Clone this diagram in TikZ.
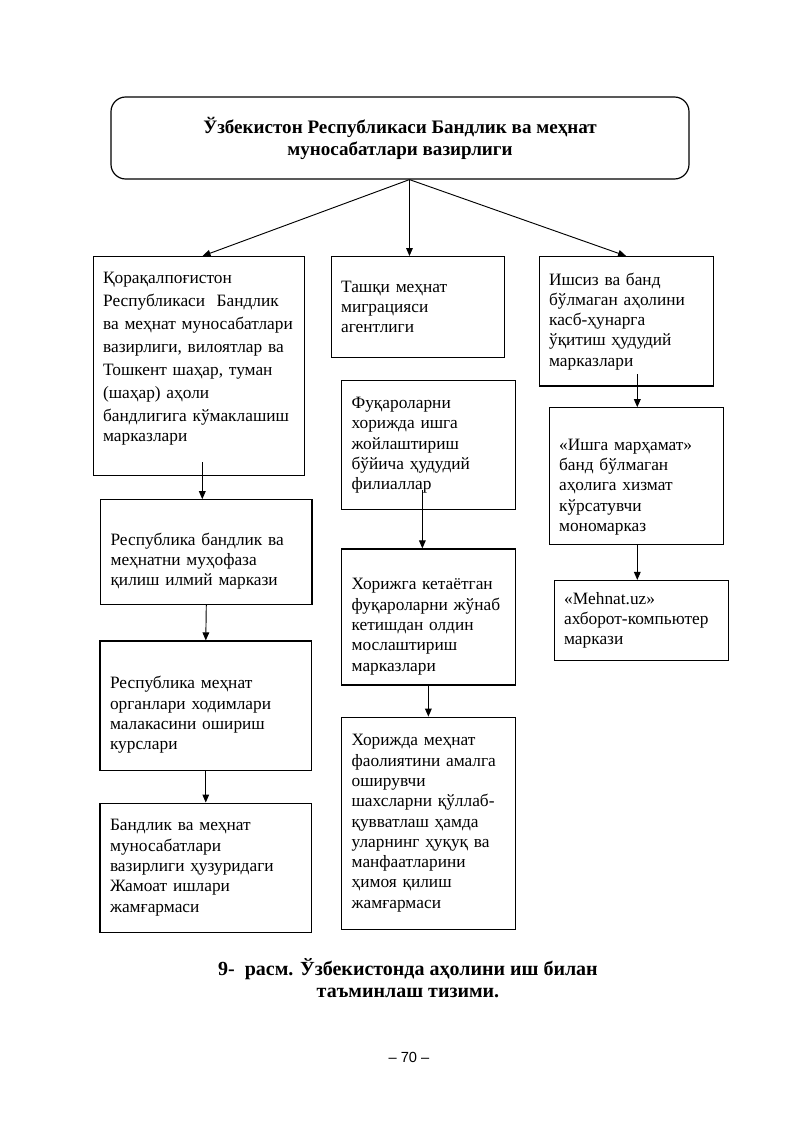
\documentclass[tikz,border=0pt]{standalone}
\usepackage{fontspec}
\setmainfont{Liberation Serif}
\newfontfamily\pagefont{Liberation Sans}
\usetikzlibrary{positioning, arrows.meta}

\newcommand{\padtop}[1]{\rule{0pt}{#1}}
\newcommand{\padbot}[1]{\rule[-#1]{0pt}{#1}}

\begin{document}
\begin{tikzpicture}[x=0.75pt, y=-0.75pt,
    box/.style={draw, line width=0.9pt, align=left, inner xsep=7.5pt, inner ysep=0pt,
        font=\fontsize{13}{15.2}\selectfont},
    colL/.style={minimum width=158.6pt, text width=143.6pt},
    colM/.style={minimum width=130.1pt, text width=115.1pt},
    colR/.style={minimum width=130.5pt, text width=115.5pt},
    boss/.style={draw, line width=0.9pt, rounded corners=11pt, align=center,
        font=\fontsize{14.3}{16.5}\selectfont\bfseries},
    link/.style={-{Triangle[length=6pt,width=5pt]}, line width=0.7pt}]
    \fill[white] (0,0) rectangle (800,1131);
    \useasboundingbox (0,0) rectangle (800,1131);

    \node[boss, minimum width=433.5pt, minimum height=61.5pt] (top) at (400,138)
        {Ўзбекистон Республикаси Бандлик ва меҳнат\\ муносабатлари вазирлиги};

    \node[box, colL, minimum height=163.9pt, anchor=north west] (L1) at (92.5,256)
        {\fontsize{13}{17.25}\selectfont Қорақалпоғистон\\ Республикаси\ \ Бандлик\\ ва меҳнат муносабатлари\\ вазирлиги, вилоятлар ва\\ Тошкент шаҳар, туман\\ (шаҳар) аҳоли\\ бандлигига кўмаклашиш\\ марказлари\padbot{13.7pt}};
    \node[box, colL, minimum height=78.4pt, below=17.6pt of L1, xshift=5.6pt] (L2)
        {\padtop{23pt}Республика бандлик ва\\ меҳнатни муҳофаза\\ қилиш илмий маркази};
    \node[box, colL, minimum height=97.1pt, below=26.6pt of L2, xshift=-0.4pt] (L3)
        {\padtop{23pt}Республика меҳнат\\ органлари ходимлари\\ малакасини ошириш\\ курслари};
    \node[box, colL, minimum height=96.75pt, below=23.6pt of L3] (L4)
        {Бандлик ва меҳнат\\ муносабатлари\\ вазирлиги ҳузуридаги\\ Жамоат ишлари\\ жамғармаси};

    \node[box, colM, minimum height=75.75pt, anchor=north west] (M1) at (330.5,256)
        {Ташқи меҳнат\\ миграцияси\\ агентлиги};
    \node[box, colM, minimum height=96.75pt, below=16.5pt of M1, xshift=7.9pt] (M2)
        {Фуқароларни\\ хорижда ишга\\ жойлаштириш\\ бўйича ҳудудий\\ филиаллар};
    \node[box, colM, minimum height=102pt, below=28.5pt of M2] (M3)
        {\padtop{23pt}Хорижга кетаётган\\ фуқароларни жўнаб\\ кетишдан олдин\\ мослаштириш\\ марказлари};
    \node[box, colM, minimum height=159pt, below=23.25pt of M3] (M4)
        {Хорижда меҳнат\\ фаолиятини амалга\\ оширувчи\\ шахсларни қўллаб-\\ қувватлаш ҳамда\\ уларнинг ҳуқуқ ва\\ манфаатларини\\ ҳимоя қилиш\\ жамғармаси};

    \node[box, colR, minimum height=97.1pt, anchor=north west] (R1) at (538.5,256)
        {Ишсиз ва банд\\ бўлмаган аҳолини\\ касб-ҳунарга\\ ўқитиш ҳудудий\\ марказлари};
    \node[box, colR, minimum height=102.75pt, below=15.4pt of R1, xshift=7.5pt] (R2)
        {\padtop{24.5pt}«Ишга марҳамат»\\ банд бўлмаган\\ аҳолига хизмат\\ кўрсатувчи\\ мономарказ};
    \node[box, colR, minimum height=60pt, below=25.9pt of R2, xshift=3.75pt] (R3)
        {«Mehnat.uz»\\ ахборот-компьютер\\ маркази};

    \node[font=\fontsize{15}{16.5}\selectfont\bfseries, align=center] (caption) at (408,978)
        {9-\ \ расм. Ўзбекистонда аҳолини иш билан\\ таъминлаш тизими.};
    \node[font=\pagefont\fontsize{11}{13}\selectfont] (page) at (409,1057) {– 70 –};

    \coordinate (hub) at ([xshift=7.1pt]top.south);
    \draw[link] (hub) -- ([xshift=2.8pt]L1.north);
    \draw[link] (hub) -- (hub |- M1.north);
    \draw[link] (hub) -- (R1.north);
    \draw[link] ([xshift=2.6pt,yshift=10.1pt]L1.south) -- ([xshift=-3pt]L2.north);
    \draw[link] (L2.south) -- (L3.north);
    \draw[link] (L3.south) -- (L4.north);
    \draw[link] ([xshift=-4.5pt,yshift=15pt]M2.south) -- ([xshift=-4.5pt]M3.north);
    \draw[link] (M3.south) -- (M4.north);
    \draw[link] ([xshift=8.4pt,yshift=9.4pt]R1.south) -- ([xshift=0.9pt]R2.north);
    \draw[link] ([xshift=0.9pt]R2.south) -- ([xshift=-2.85pt]R3.north);
\end{tikzpicture}
\end{document}
